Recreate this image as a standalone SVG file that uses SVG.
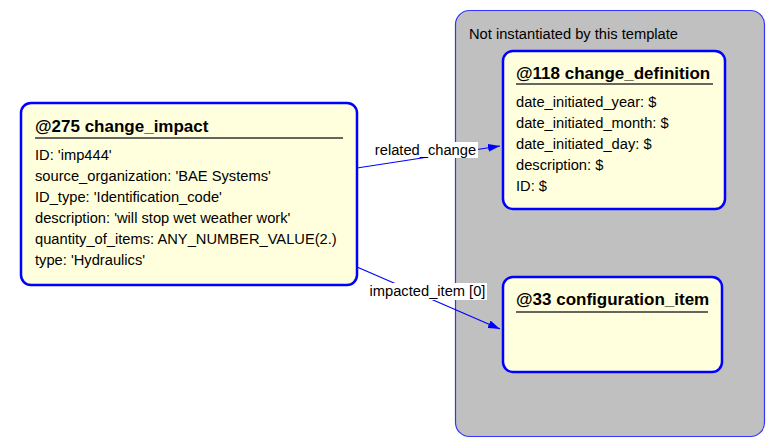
<svg xmlns="http://www.w3.org/2000/svg" width="775" height="448" viewBox="0 0 775 448">
<style>
.box{fill:#ffffdd;stroke:#0000ff;stroke-width:2.5}
.cont{fill:#c0c0c0;stroke:#3333ff;stroke-width:1.2}
.t{font-family:"Liberation Sans",Arial,sans-serif;font-size:14.7px;fill:#000}
.h{font-family:"Liberation Sans",Arial,sans-serif;font-size:17px;font-weight:bold;fill:#000}
.ul{stroke:#333;stroke-width:1.5}
.c{stroke:#0000ff;stroke-width:1.2;fill:none}
.lbg{fill:#fff}
</style>
<defs>
<marker id="arr" viewBox="0 0 12 8" refX="12" refY="4" markerWidth="12" markerHeight="8" markerUnits="userSpaceOnUse" orient="auto">
<path d="M0,0 L12,4 L0,8 Z" fill="#0000ff"/>
</marker>
</defs>
<g id="container">
<rect class="cont" x="455.5" y="10.5" width="309" height="426" rx="14"/>
<text class="t" x="469" y="39">Not instantiated by this template</text>
</g>
<g id="change_impact">
<rect class="box" x="21" y="103" width="336" height="182" rx="10"/>
<text class="h" x="35" y="132">@275 change_impact</text>
<line class="ul" x1="35" y1="138" x2="343" y2="138"/>
<text class="t" x="35" y="160">ID: 'imp444'</text>
<text class="t" x="35" y="181">source_organization: 'BAE Systems'</text>
<text class="t" x="35" y="202">ID_type: 'Identification_code'</text>
<text class="t" x="35" y="223">description: 'will stop wet weather work'</text>
<text class="t" x="35" y="244">quantity_of_items: ANY_NUMBER_VALUE(2.)</text>
<text class="t" x="35" y="265">type: 'Hydraulics'</text>
</g>
<g id="change_definition">
<rect class="box" x="503" y="51" width="222" height="158" rx="10"/>
<text class="h" x="516" y="79">@118 change_definition</text>
<line class="ul" x1="516" y1="84" x2="713" y2="84"/>
<text class="t" x="516" y="107">date_initiated_year: $</text>
<text class="t" x="516" y="128">date_initiated_month: $</text>
<text class="t" x="516" y="149">date_initiated_day: $</text>
<text class="t" x="516" y="170">description: $</text>
<text class="t" x="516" y="191">ID: $</text>
</g>
<g id="configuration_item">
<rect class="box" x="503" y="277" width="219" height="95" rx="10"/>
<text class="h" x="516" y="305">@33 configuration_item</text>
<line class="ul" x1="516" y1="312" x2="708" y2="312"/>
</g>
<g id="connectors">
<line class="c" x1="357" y1="168" x2="500" y2="146" marker-end="url(#arr)"/>
<rect class="lbg" x="373" y="142" width="105" height="16"/>
<text class="t" x="425.5" y="155" text-anchor="middle">related_change</text>
<line class="c" x1="357" y1="267" x2="500" y2="329" marker-end="url(#arr)"/>
<rect class="lbg" x="368" y="283" width="119" height="17"/>
<text class="t" x="427.5" y="296" text-anchor="middle">impacted_item [0]</text>
</g>
</svg>
